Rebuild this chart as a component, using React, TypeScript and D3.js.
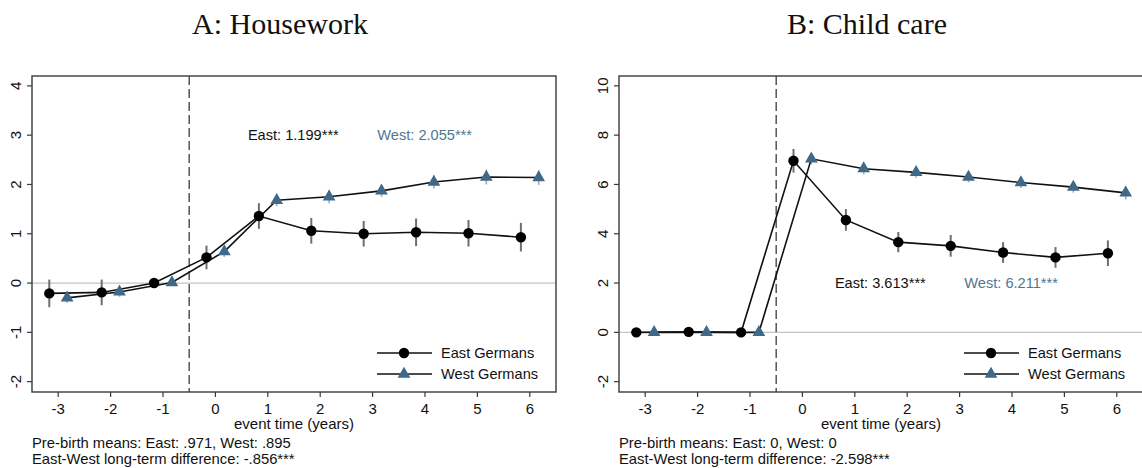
import React from "react";
import * as d3 from "d3";

const eventTimes = [-3, -2, -1, 0, 1, 2, 3, 4, 5, 6];
const xTicks = [-3, -2, -1, 0, 1, 2, 3, 4, 5, 6];

const houseworkEast = [-0.21, -0.19, 0.0, 0.52, 1.36, 1.06, 1.0, 1.03, 1.01, 0.93];
const houseworkEastCI = [0.28, 0.26, 0, 0.24, 0.26, 0.26, 0.26, 0.28, 0.27, 0.29];
const houseworkWest = [-0.3, -0.18, 0.01, 0.64, 1.68, 1.75, 1.87, 2.05, 2.15, 2.14];
const houseworkWestCI = [0.1, 0.1, 0, 0.11, 0.12, 0.13, 0.12, 0.13, 0.15, 0.15];
const houseworkYTicks = [-2, -1, 0, 1, 2, 3, 4];

const childEast = [0, 0.02, 0, 6.96, 4.56, 3.66, 3.51, 3.24, 3.04, 3.21];
const childEastCI = [0, 0, 0, 0.48, 0.44, 0.41, 0.44, 0.42, 0.42, 0.52];
const childWest = [0, 0, 0, 7.04, 6.64, 6.49, 6.3, 6.08, 5.89, 5.66];
const childWestCI = [0, 0, 0, 0.23, 0.23, 0.22, 0.22, 0.22, 0.22, 0.27];
const childYTicks = [-2, 0, 2, 4, 6, 8, 10];

const titles = ["A: Housework", "B: Child care"];
const eastLabels = ["East: 1.199***", "East: 3.613***"];
const westLabels = ["West: 2.055***", "West: 6.211***"];
const labelY = [3.0, 2.0];
const eastLabelX = 0.62;
const westLabelX = 3.09;
const noteLines = [
  ["Pre-birth means: East: .971, West: .895", "East-West long-term difference: -.856***"],
  ["Pre-birth means: East: 0, West: 0", "East-West long-term difference: -2.598***"],
];
const legendLabels = ["East Germans", "West Germans"];
const xAxisTitle = "event time (years)";

const FONT = "'Liberation Sans', Arial, sans-serif";
const WEST_COLOR = "#3f6989";
const WEST_TEXT = "#4f7593";
const OFFSET = 0.17;

type PanelProps = {
  ox: number;
  title: string;
  east: number[];
  eastCI: number[];
  west: number[];
  westCI: number[];
  yDomain: [number, number];
  yTicks: number[];
  eastLabel: string;
  westLabel: string;
  labelYVal: number;
  notes: string[];
};

function Panel(p: PanelProps) {
  const left = 32 + p.ox;
  const right = 556 + p.ox;
  const top = 76;
  const bottom = 392;
  const x = d3.scaleLinear().domain([-3.5, 6.5]).range([left, right]);
  const y = d3.scaleLinear().domain(p.yDomain).range([bottom, top]);
  const line = d3
    .line<[number, number]>()
    .x((d) => x(d[0]))
    .y((d) => y(d[1]));
  const eastPts: [number, number][] = eventTimes.map((t, i) => [t - OFFSET, p.east[i]]);
  const westPts: [number, number][] = eventTimes.map((t, i) => [t + OFFSET, p.west[i]]);
  const circle = d3.symbol().type(d3.symbolCircle).size(85)() as string;
  const tri = d3.symbol().type(d3.symbolTriangle).size(70)() as string;
  const cx = (left + right) / 2;
  const legX0 = 377 + p.ox;
  const legX1 = 432 + p.ox;
  const legMx = 404 + p.ox;
  const legTx = 441 + p.ox;
  const legY = [353, 374];
  return (
    <g>
      <text x={p.ox + 280} y={34} textAnchor="middle" fontFamily="'Liberation Serif', 'Times New Roman', serif" fontSize={30} fill="#111">
        {p.title}
      </text>
      <line x1={left} x2={right} y1={y(0)} y2={y(0)} stroke="#c4c4c4" strokeWidth={1.3} />
      <line x1={x(-0.5)} x2={x(-0.5)} y1={top} y2={bottom} stroke="#555" strokeWidth={1.5} strokeDasharray="9,4" />
      <rect x={left} y={top} width={right - left} height={bottom - top} fill="none" stroke="#3a3a3a" strokeWidth={1.4} />
      {p.yTicks.map((t) => (
        <g key={"yt" + t}>
          <line x1={left - 5} x2={left} y1={y(t)} y2={y(t)} stroke="#3a3a3a" strokeWidth={1.2} />
          <text
            transform={`translate(${left - 11},${y(t)}) rotate(-90)`}
            textAnchor="middle"
            fontFamily={FONT}
            fontSize={15}
            fill="#111"
          >
            {t}
          </text>
        </g>
      ))}
      {xTicks.map((t) => (
        <g key={"xt" + t}>
          <line x1={x(t)} x2={x(t)} y1={bottom} y2={bottom + 5} stroke="#3a3a3a" strokeWidth={1.2} />
          <text x={x(t)} y={bottom + 22} textAnchor="middle" fontFamily={FONT} fontSize={15} fill="#111">
            {t}
          </text>
        </g>
      ))}
      <text x={cx} y={bottom + 37} textAnchor="middle" fontFamily={FONT} fontSize={15} fill="#111">
        {xAxisTitle}
      </text>
      {p.notes.map((n, i) => (
        <text key={n} x={left} y={bottom + 56 + i * 16} fontFamily={FONT} fontSize={14.8} fill="#111">
          {n}
        </text>
      ))}
      {eventTimes.map((t, i) =>
        p.eastCI[i] > 0 ? (
          <line
            key={"ec" + t}
            x1={x(t - OFFSET)}
            x2={x(t - OFFSET)}
            y1={y(p.east[i] - p.eastCI[i])}
            y2={y(p.east[i] + p.eastCI[i])}
            stroke="#6e6e6e"
            strokeWidth={2}
          />
        ) : null
      )}
      {eventTimes.map((t, i) =>
        p.westCI[i] > 0 ? (
          <line
            key={"wc" + t}
            x1={x(t + OFFSET)}
            x2={x(t + OFFSET)}
            y1={y(p.west[i] - p.westCI[i])}
            y2={y(p.west[i] + p.westCI[i])}
            stroke="#a3abb3"
            strokeWidth={1.6}
          />
        ) : null
      )}
      <path d={line(eastPts) as string} fill="none" stroke="#111" strokeWidth={1.6} />
      <path d={line(westPts) as string} fill="none" stroke="#111" strokeWidth={1.6} />
      {eastPts.map((d, i) => (
        <path key={"em" + i} d={circle} transform={`translate(${x(d[0])},${y(d[1])})`} fill="#000" />
      ))}
      {westPts.map((d, i) => (
        <path key={"wm" + i} d={tri} transform={`translate(${x(d[0])},${y(d[1])})`} fill={WEST_COLOR} />
      ))}
      <text x={x(eastLabelX)} y={y(p.labelYVal)} dy="0.35em" fontFamily={FONT} fontSize={14.6} fill="#111">
        {p.eastLabel}
      </text>
      <text x={x(westLabelX)} y={y(p.labelYVal)} dy="0.35em" fontFamily={FONT} fontSize={14.6} fill={WEST_TEXT}>
        {p.westLabel}
      </text>
      {legendLabels.map((lab, i) => (
        <g key={lab}>
          <line x1={legX0} x2={legX1} y1={legY[i]} y2={legY[i]} stroke="#111" strokeWidth={1.6} />
          <path d={i === 0 ? circle : tri} transform={`translate(${legMx},${legY[i]})`} fill={i === 0 ? "#000" : WEST_COLOR} />
          <text x={legTx} y={legY[i]} dy="0.35em" fontFamily={FONT} fontSize={14.6} fill="#111">
            {lab}
          </text>
        </g>
      ))}
    </g>
  );
}

export default function App() {
  return (
    <svg width={1142} height={468} style={{ position: "absolute", left: 0, top: 0, background: "#fff" }}>
      <rect x={0} y={0} width={1142} height={468} fill="#fff" />
      <Panel
        ox={0}
        title={titles[0]}
        east={houseworkEast}
        eastCI={houseworkEastCI}
        west={houseworkWest}
        westCI={houseworkWestCI}
        yDomain={[-2.21, 4.2]}
        yTicks={houseworkYTicks}
        eastLabel={eastLabels[0]}
        westLabel={westLabels[0]}
        labelYVal={labelY[0]}
        notes={noteLines[0]}
      />
      <Panel
        ox={587}
        title={titles[1]}
        east={childEast}
        eastCI={childEastCI}
        west={childWest}
        westCI={childWestCI}
        yDomain={[-2.42, 10.4]}
        yTicks={childYTicks}
        eastLabel={eastLabels[1]}
        westLabel={westLabels[1]}
        labelYVal={labelY[1]}
        notes={noteLines[1]}
      />
    </svg>
  );
}
